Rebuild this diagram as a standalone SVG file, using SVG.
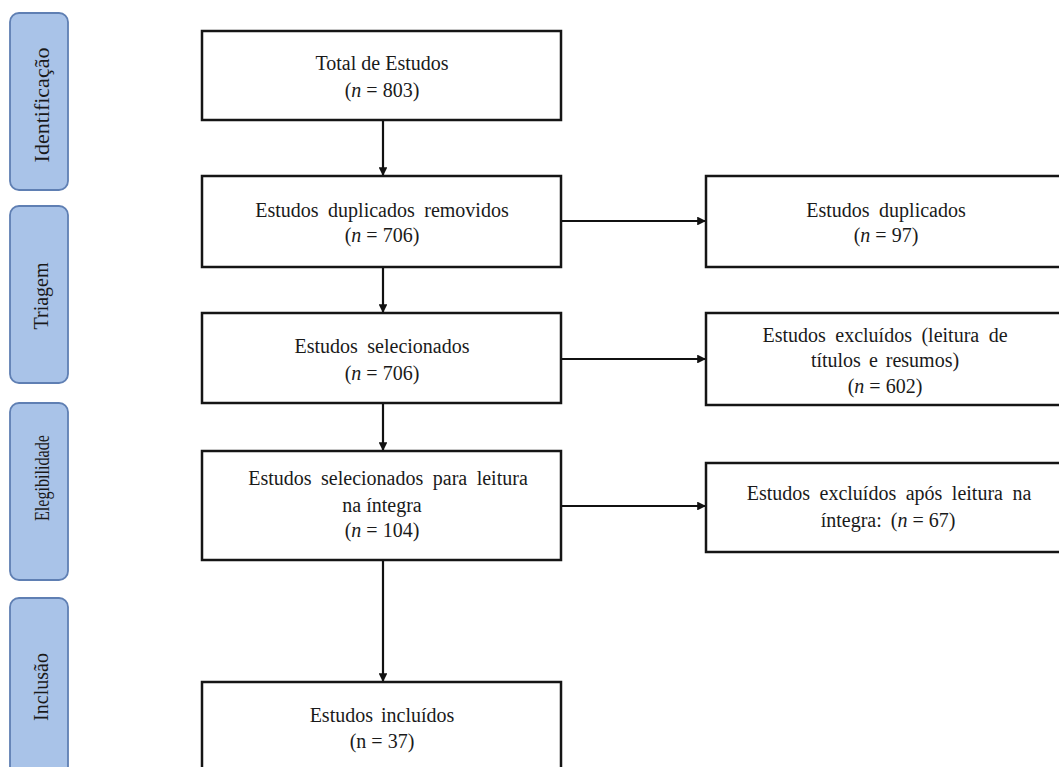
<svg xmlns="http://www.w3.org/2000/svg" width="1059" height="767" viewBox="0 0 1059 767">
<style>
.stage{fill:#a9c3e8;stroke:#5f7fb3;stroke-width:1.8}
.stl{font-family:"Liberation Serif","Times New Roman",serif;font-size:20px;fill:#1a1a1a;text-anchor:middle}
.box{fill:#ffffff;stroke:#151515;stroke-width:2.5}
.t{font-family:"Liberation Serif","Times New Roman",serif;font-size:20px;fill:#1a1a1a;text-anchor:middle}
.ws{word-spacing:4.5px}
.con{stroke:#111;stroke-width:2.2;fill:none;marker-end:url(#ah)}
</style>
<defs>
<marker id="ah" viewBox="0 0 10 10" refX="10" refY="5" markerWidth="4" markerHeight="4" orient="auto" markerUnits="strokeWidth">
<path d="M0,0 L10,5 L0,10 z" fill="#111"/>
</marker>
</defs>
<rect width="1059" height="767" fill="#ffffff"/>

<g id="stage-identificacao">
<rect class="stage" x="10" y="13" width="58" height="177" rx="9"/>
<text class="stl" transform="translate(49,105) rotate(-90)" style="font-size:22px">Identificação</text>
</g>
<g id="stage-triagem">
<rect class="stage" x="10" y="206" width="58" height="177" rx="9"/>
<text class="stl" transform="translate(48,296) rotate(-90)">Triagem</text>
</g>
<g id="stage-elegibilidade">
<rect class="stage" x="10" y="403" width="58" height="177" rx="9"/>
<text class="stl" transform="translate(49,478) rotate(-90)" style="font-size:22px" textLength="86" lengthAdjust="spacingAndGlyphs">Elegibilidade</text>
</g>
<g id="stage-inclusao">
<rect class="stage" x="10" y="598" width="58" height="190" rx="9"/>
<text class="stl" transform="translate(48,687) rotate(-90)">Inclusão</text>
</g>

<g id="connectors">
<line class="con" x1="383" y1="120" x2="383" y2="176"/>
<line class="con" x1="383" y1="267" x2="383" y2="313"/>
<line class="con" x1="383" y1="403" x2="383" y2="451"/>
<line class="con" x1="383" y1="560" x2="383" y2="682"/>
<line class="con" x1="561" y1="221" x2="706" y2="221"/>
<line class="con" x1="561" y1="359" x2="706" y2="359"/>
<line class="con" x1="561" y1="506" x2="706" y2="506"/>
</g>

<g id="n-total">
<rect class="box" x="202" y="31" width="359" height="89"/>
<text class="t" x="382" y="70">Total de Estudos</text>
<text class="t" x="382" y="97">(<tspan font-style="italic">n</tspan> = 803)</text>
</g>
<g id="n-removidos">
<rect class="box" x="202" y="176" width="359" height="91"/>
<text class="t ws" x="382" y="217">Estudos duplicados removidos</text>
<text class="t" x="382" y="242">(<tspan font-style="italic">n</tspan> = 706)</text>
</g>
<g id="n-selecionados">
<rect class="box" x="202" y="313" width="359" height="90"/>
<text class="t ws" x="382" y="353">Estudos selecionados</text>
<text class="t" x="382" y="380">(<tspan font-style="italic">n</tspan> = 706)</text>
</g>
<g id="n-integra">
<rect class="box" x="202" y="451" width="359" height="109"/>
<text class="t ws" x="388" y="485">Estudos selecionados para leitura</text>
<text class="t" x="382" y="512">na íntegra</text>
<text class="t" x="382" y="537">(<tspan font-style="italic">n</tspan> = 104)</text>
</g>
<g id="n-incluidos">
<rect class="box" x="202" y="682" width="359" height="110"/>
<text class="t" x="382" y="722" style="word-spacing:3px">Estudos incluídos</text>
<text class="t" x="382" y="748">(n = 37)</text>
</g>
<g id="n-duplicados">
<rect class="box" x="706" y="176" width="364" height="91"/>
<text class="t ws" x="886" y="217">Estudos duplicados</text>
<text class="t" x="886" y="242">(<tspan font-style="italic">n</tspan> = 97)</text>
</g>
<g id="n-excluidos">
<rect class="box" x="706" y="313" width="364" height="92"/>
<text class="t ws" x="885" y="342">Estudos excluídos (leitura de</text>
<text class="t" x="885" y="367" style="word-spacing:3px">títulos e resumos)</text>
<text class="t" x="885" y="393">(<tspan font-style="italic">n</tspan> = 602)</text>
</g>
<g id="n-excluidos-integra">
<rect class="box" x="706" y="463" width="364" height="89"/>
<text class="t ws" x="889" y="500">Estudos excluídos após leitura na</text>
<text class="t" x="888" y="527">íntegra: <tspan dx="4">(</tspan><tspan font-style="italic">n</tspan> = 67)</text>
</g>
</svg>
